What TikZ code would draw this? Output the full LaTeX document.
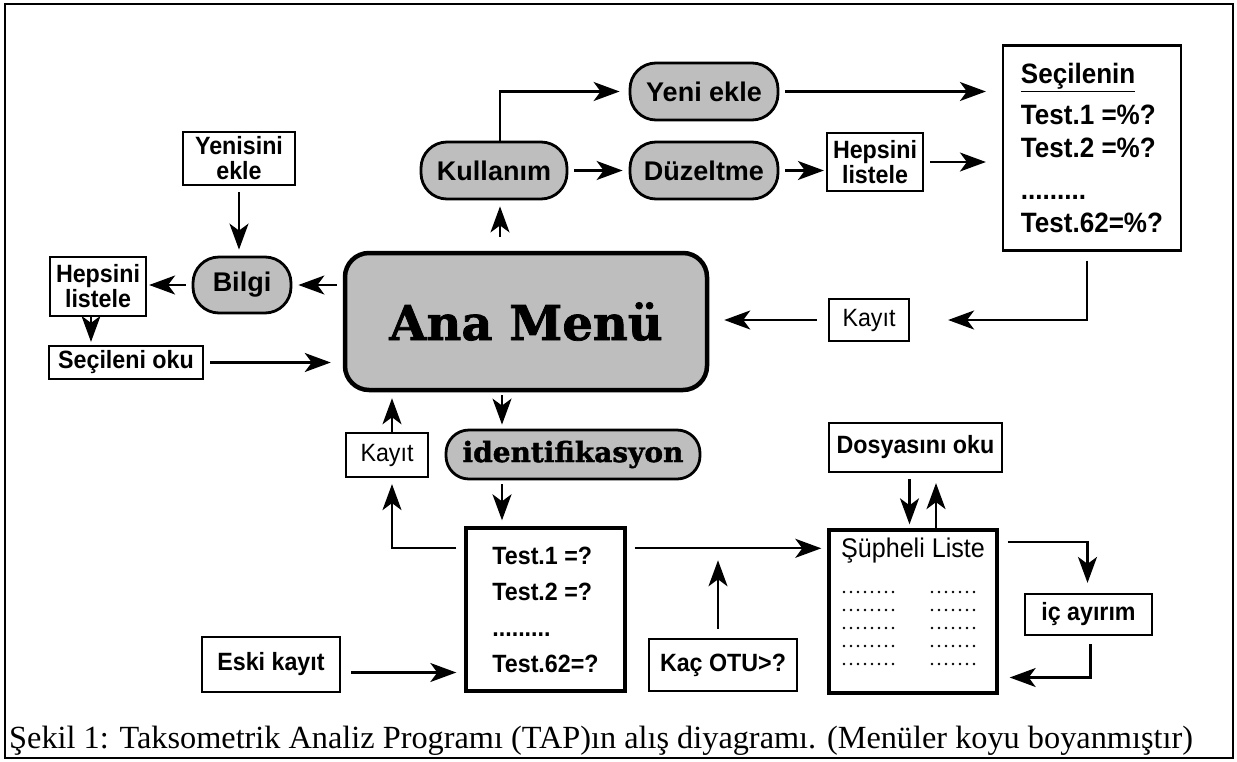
\documentclass[tikz,border=0pt]{standalone}
\usepackage{fontspec}
\setmainfont{Liberation Serif}
\newfontfamily\lblfont[FakeStretch=0.93]{Liberation Sans}
\newfontfamily\ovalfont{Liberation Sans}
\newfontfamily\slabfont[BoldFeatures={FakeBold=1.5}]{DejaVu Serif}
\usepackage{tikz}
\usetikzlibrary{arrows.meta, positioning, calc}

\definecolor{MenuGray}{RGB}{190, 190, 190}

\tikzset{
    lbox/.style={draw, line width=2.2pt, inner sep=0pt, align=center,
        font=\lblfont\bfseries\fontsize{25}{25}\selectfont},
    plainlbox/.style={lbox, font=\lblfont\fontsize{25}{25}\selectfont},
    thickbox/.style={lbox, line width=3.4pt},
    oval/.style={draw, line width=2.8pt, inner sep=0pt, fill=MenuGray,
        rounded corners=26pt, font=\ovalfont\bfseries\fontsize{27}{27}\selectfont},
    conn/.style={line width=2.2pt, -{Stealth[length=26pt, width=19pt, inset=7pt]},
        shorten >=6pt, shorten <=6pt}
}

\begin{document}
\begin{tikzpicture}[x=1pt, y=-1pt]
    \useasboundingbox (0,0) rectangle (1237,761);
    \draw[line width=2pt] (5,4) rectangle (1233,758);

    % Main menu
    \node[oval, line width=4.5pt, rounded corners=24pt, minimum width=362pt, minimum height=137pt,
        font=\slabfont\bfseries\fontsize{48}{48}\selectfont] (anamenu) at (526,321.5) {Ana Menü};

    % Left side: Bilgi
    \node[lbox, minimum width=112pt, minimum height=53pt] (yenisini) at (239,158.5) {Yenisini\\ekle};
    \node[oval, minimum width=98pt, minimum height=56pt] (bilgi) at (242,285) {Bilgi};
    \node[lbox, minimum width=96pt, minimum height=59pt] (hepL) at (98,286.5) {Hepsini\\listele};
    \node[lbox, minimum width=154pt, minimum height=33pt] (secileni) at (126,362.5) {Seçileni oku};

    % Top: Kullanim
    \node[oval, minimum width=146pt, minimum height=57pt] (kullanim) at (494,170.5) {Kullanım};
    \node[oval, minimum width=148pt, minimum height=57pt] (yeniekle) at (704,91.5) {Yeni ekle};
    \node[oval, minimum width=148pt, minimum height=57pt] (duzelt) at (704,170.5) {Düzeltme};
    \node[lbox, minimum width=96pt, minimum height=58pt] (hepR) at (875,162) {Hepsini\\listele};
    \node[lbox, minimum width=178pt, minimum height=205pt, align=left,
        font=\lblfont\bfseries\fontsize{28}{33}\selectfont] (secilenin) at (1092,148)
        {\underline{Seçilenin}\\[8pt] Test.1 =\%?\\ Test.2 =\%?\\[9pt] .........\\ Test.62=\%?};
    \node[plainlbox, minimum width=80pt, minimum height=42pt] (kayitR) at (869,320) {Kayıt};

    % Bottom: identifikasyon
    \node[plainlbox, minimum width=82pt, minimum height=44pt] (kayitB) at (387,455) {Kayıt};
    \node[oval, minimum width=254pt, minimum height=49pt, rounded corners=23pt,
        font=\slabfont\bfseries\fontsize{28}{28}\selectfont] (ident) at (573,454.5) {identifikasyon};
    \node[thickbox, minimum width=159pt, minimum height=163pt, align=left,
        font=\lblfont\bfseries\fontsize{25}{36}\selectfont] (testbox) at (545.5,609.5)
        {Test.1 =?\\ Test.2 =?\\ .........\\ Test.62=?};
    \node[lbox, minimum width=138pt, minimum height=55pt] (eski) at (271,664.5) {Eski kayıt};
    \node[lbox, minimum width=148pt, minimum height=52pt] (kacotu) at (723,665) {Kaç OTU>?};

    % Suspect list
    \node[lbox, minimum width=173pt, minimum height=49pt] (dosya) at (915.5,447.5) {Dosyasını oku};
    \node[thickbox, minimum width=168pt, minimum height=163pt] (supheli) at (913,611.5) {};
    \node[anchor=base, inner sep=0pt, font=\lblfont\fontsize{27}{27}\selectfont] (suptitle)
        at (913,557) {Şüpheli Liste};
    \foreach \i in {0,...,4} {
        \foreach \j in {0,...,7}
            \fill ({844+7*\j},{592+18*\i}) circle (1.4pt);
        \foreach \j in {0,...,6}
            \fill ({932+7*\j},{592+18*\i}) circle (1.4pt);
    }
    \node[lbox, minimum width=127pt, minimum height=41pt] (icayir) at (1088.5,614.5) {iç ayırım};

    % Connectors
    \draw[conn] (yenisini.south) -- (yenisini.south |- bilgi.north);
    \draw[conn] (anamenu.west |- bilgi.east) -- (bilgi.east);
    \draw[conn, shorten >=2pt] (bilgi.west) -- (hepL.east |- bilgi.west);
    \draw[conn, shorten <=0pt, shorten >=3pt] ([xshift=-7pt]hepL.south) -- ([xshift=-7pt]hepL.south |- secileni.north);
    \draw[conn, shorten >=12pt] (secileni.east) -- (anamenu.west |- secileni.east);

    \draw[conn, shorten <=14pt] ([xshift=6pt]kullanim.south |- anamenu.north) -- ([xshift=6pt]kullanim.south);
    \draw[conn, shorten <=0pt, shorten >=9pt] ([xshift=6pt]kullanim.north) |- (yeniekle.west);
    \draw[conn] (kullanim.east) -- (duzelt.west);
    \draw[conn, shorten >=2pt] (duzelt.east) -- (hepR.west |- duzelt.east);
    \draw[conn, shorten >=16pt] (hepR.east) -- (secilenin.west |- hepR.east);
    \draw[conn, shorten >=16pt] (yeniekle.east) -- (secilenin.west |- yeniekle.east);
    \draw[conn, shorten <=9pt, shorten >=38pt] ([xshift=-5pt]secilenin.south) |- (kayitR.east);
    \draw[conn, shorten <=11pt, shorten >=15pt] (kayitR.west) -- (anamenu.east |- kayitR.west);

    \coordinate (menuout) at ([xshift=-24pt]anamenu.south);
    \draw[conn, shorten <=3pt, shorten >=4pt] (menuout) -- (menuout |- ident.north);
    \draw[conn, shorten <=4pt] (menuout |- ident.south) -- (menuout |- testbox.north);
    \draw[conn, shorten <=0pt, shorten >=6pt] ([xshift=5pt]kayitB.north) -- ([xshift=5pt]kayitB.north |- anamenu.south);
    \draw[conn, shorten <=8pt] ([yshift=-22pt]testbox.north west) -| ([xshift=5pt]kayitB.south);
    \coordinate (eskiout) at ([yshift=-8pt]eski.east);
    \draw[conn, shorten <=10pt, shorten >=8pt] (eskiout) -- (testbox.west |- eskiout);

    \coordinate (tline) at ([yshift=-22pt]testbox.north east);
    \draw[conn, shorten <=8pt] (tline) -- (supheli.west |- tline);
    \draw[conn, shorten <=9pt, shorten >=12pt] ([xshift=-5pt]kacotu.north) -- ([xshift=-5pt]kacotu.north |- tline);

    \draw[conn, shorten >=4pt] ([xshift=-6pt]dosya.south) -- ([xshift=-6pt]dosya.south |- supheli.north);
    \draw[conn, shorten <=0pt, shorten >=10pt] ([xshift=23pt]supheli.north) -- ([xshift=23pt]supheli.north |- dosya.south);
    \draw[conn, shorten <=9pt, shorten >=10pt] ([yshift=-14pt]supheli.north east) -| ([xshift=-1pt]icayir.north);
    \draw[conn, shorten <=8pt, shorten >=11pt] ([xshift=2pt]icayir.south) |- ([yshift=-66pt]supheli.east);

    % Caption
    \node[anchor=base west, inner sep=0pt, font=\fontsize{32.3}{32}\selectfont] (caption) at (9,748)
        {Şekil 1: Taksometrik Analiz Programı (TAP)ın alış diyagramı. (Menüler koyu boyanmıştır)};
\end{tikzpicture}
\end{document}
